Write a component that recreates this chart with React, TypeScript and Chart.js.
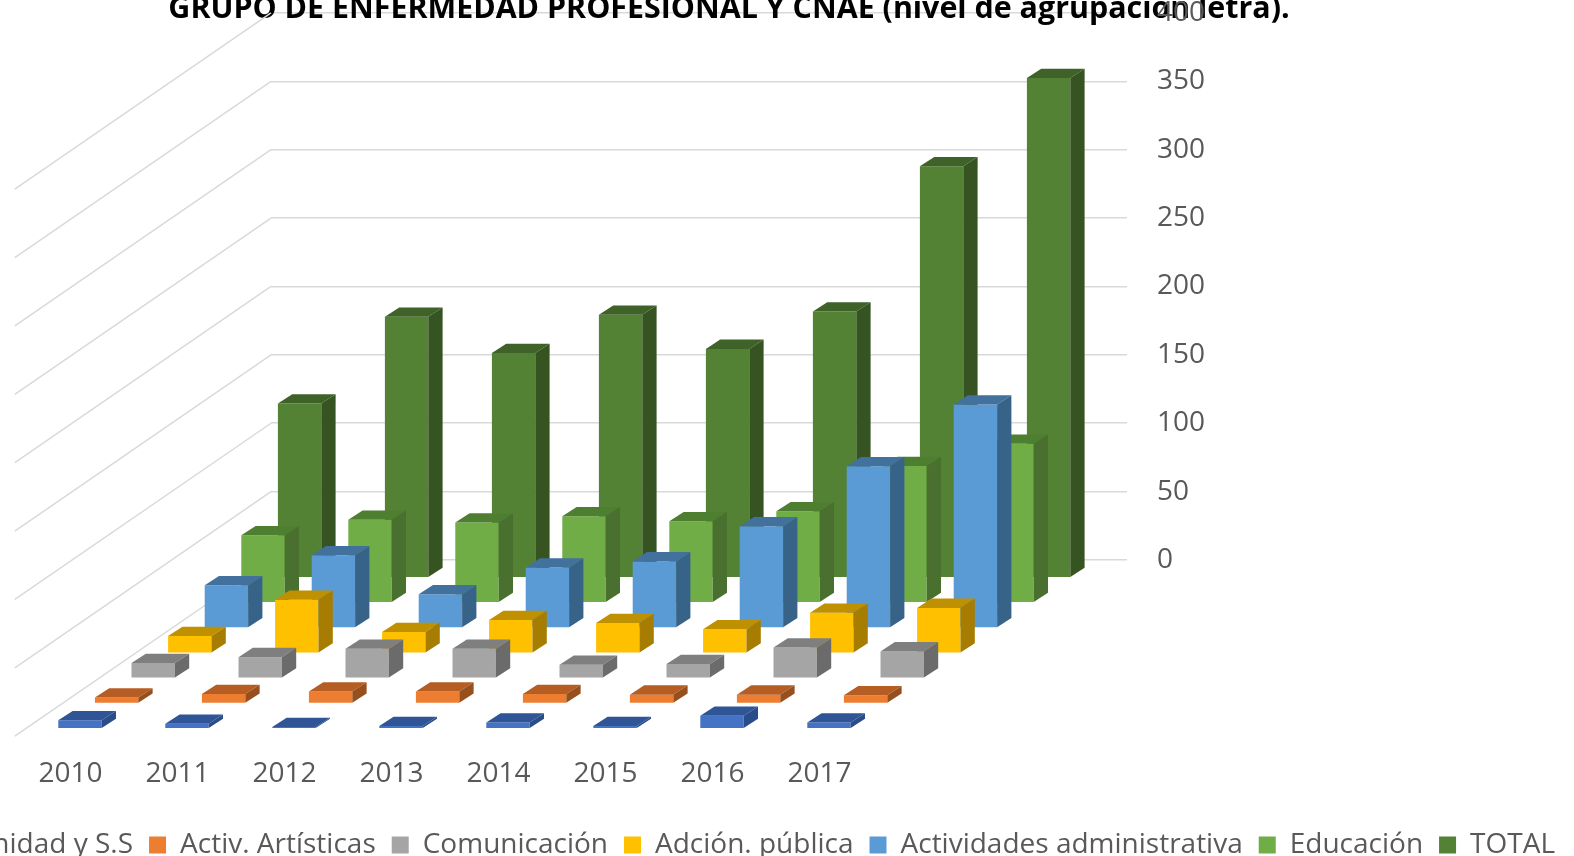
import React, { useEffect, useRef } from "react";
import { Chart, registerables } from "chart.js";

Chart.register(...registerables);

const titleText = "GRUPO DE ENFERMEDAD PROFESIONAL Y CNAE (nivel de agrupación letra).";
const years = ["2010", "2011", "2012", "2013", "2014", "2015", "2016", "2017"];
const sanidad = [6.1, 3.6, 1.2, 2, 4.5, 2, 9.4, 4.5];
const artisticas = [4.4, 6.9, 8.8, 8.8, 7, 6.5, 6.5, 6.1];
const comunicacion = [11.2, 15.5, 21.7, 21.7, 10, 10.5, 22.6, 19.7];
const adminPublica = [12.5, 39, 15.5, 24.2, 22, 17.5, 29.5, 33.1];
const actividades = [31.3, 53.2, 24.7, 44.3, 48.7, 74.4, 118.3, 163.5];
const educacion = [49.4, 60.7, 58.7, 63.3, 59.7, 67, 100, 116.3];
const total = [127.3, 190.8, 164.3, 192.3, 167.3, 194.6, 300.8, 365.3];

const PAGE_LEFT = -113;
const PAGE_TOP = -38;
const CANVAS_W = 1684;
const CANVAS_H = 907;
const FONT = "'Open Sans'";
const ROW_DX = 36.6;
const ROW_DY = -25.17;
const FRONT_DX = -244.5;
const FRONT_DY = 168.7;
const FACE_DX = 14.3;
const FACE_DY = 9.3;

const rowShade = [
  { top: "#2F5597", side: "#2A4D8A" },
  { top: "#B55D22", side: "#97501D" },
  { top: "#7F7F7F", side: "#6B6B6B" },
  { top: "#BF9000", side: "#A67D00" },
  { top: "#41719C", side: "#376389" },
  { top: "#4E7F30", side: "#4A702F" },
  { top: "#3F6228", side: "#365322" },
];

const depthPlugin = {
  id: "depth",
  beforeDatasetsDraw(chart: any) {
    const { ctx, scales } = chart;
    const left = chart.chartArea.left;
    const run = 7 * ROW_DX;
    ctx.save();
    ctx.strokeStyle = "#D9D9D9";
    ctx.lineWidth = 1.5;
    scales.y.ticks.forEach((t: any) => {
      const y = scales.y.getPixelForValue(t.value);
      ctx.beginPath();
      ctx.moveTo(left, y);
      ctx.lineTo(left - run, y - 7 * ROW_DY);
      ctx.stroke();
    });
    ctx.restore();
  },
  beforeDatasetDraw(chart: any, args: any) {
    const i = args.index;
    chart.ctx.save();
    chart.ctx.translate(FRONT_DX + i * ROW_DX, FRONT_DY + i * ROW_DY);
  },
  afterDatasetDraw(chart: any, args: any) {
    const { ctx } = chart;
    const shade = rowShade[args.index];
    args.meta.data.forEach((bar: any) => {
      const l = bar.x - bar.width / 2;
      const r = bar.x + bar.width / 2;
      const t = bar.y;
      const b = bar.base;
      ctx.fillStyle = shade.top;
      ctx.beginPath();
      ctx.moveTo(l, t);
      ctx.lineTo(l + FACE_DX, t - FACE_DY);
      ctx.lineTo(r + FACE_DX, t - FACE_DY);
      ctx.lineTo(r, t);
      ctx.closePath();
      ctx.fill();
      ctx.fillStyle = shade.side;
      ctx.beginPath();
      ctx.moveTo(r, t);
      ctx.lineTo(r + FACE_DX, t - FACE_DY);
      ctx.lineTo(r + FACE_DX, b - FACE_DY);
      ctx.lineTo(r, b);
      ctx.closePath();
      ctx.fill();
    });
    ctx.restore();
  },
};

export default function App() {
  const ref = useRef<HTMLCanvasElement | null>(null);
  useEffect(() => {
    document.body.style.margin = "0";
    const chart = new Chart(ref.current as HTMLCanvasElement, {
      type: "bar",
      data: {
        labels: years,
        datasets: [
          { label: "Sanidad y S.S", data: sanidad, backgroundColor: "#4472C4" },
          { label: "Activ. Artísticas", data: artisticas, backgroundColor: "#ED7D31" },
          { label: "Comunicación", data: comunicacion, backgroundColor: "#A5A5A5" },
          { label: "Adción. pública", data: adminPublica, backgroundColor: "#FFC000" },
          { label: "Actividades administrativa", data: actividades, backgroundColor: "#5B9BD5" },
          { label: "Educación", data: educacion, backgroundColor: "#70AD47" },
          { label: "TOTAL", data: total, backgroundColor: "#548235" },
        ],
      },
      plugins: [depthPlugin],
      options: {
        responsive: false,
        animation: false,
        datasets: {
          bar: { grouped: false, barPercentage: 0.4056, categoryPercentage: 1, clip: false, borderWidth: 0 },
        },
        scales: {
          x: {
            grid: { display: false },
            border: { display: false },
            ticks: {
              autoSkip: false,
              maxRotation: 0,
              padding: 189,
              labelOffset: -254,
              color: "#595959",
              font: { family: FONT, size: 28 },
            },
            afterFit: (s: any) => {
              s.height = 255;
            },
          },
          y: {
            position: "right",
            min: 0,
            max: 400,
            grid: { color: "#D9D9D9", lineWidth: 1.5, drawTicks: false },
            border: { display: false },
            ticks: {
              stepSize: 50,
              padding: 30,
              color: "#595959",
              font: { family: FONT, size: 28 },
            },
            afterFit: (s: any) => {
              s.width = 444;
            },
          },
          wall: {
            type: "linear",
            axis: "y",
            position: "left",
            grid: { display: false },
            border: { display: false },
            ticks: { display: false },
            afterFit: (s: any) => {
              s.width = 384;
            },
          },
        },
        plugins: {
          tooltip: { enabled: false },
          title: {
            display: true,
            text: titleText,
            color: "#000000",
            font: { family: FONT, size: 30.4, weight: "bold" },
            padding: { top: 29.4, bottom: -14.9 },
          },
          legend: {
            position: "bottom",
            align: "end",
            labels: {
              boxWidth: 17,
              boxHeight: 17,
              padding: 16,
              color: "#595959",
              font: { family: FONT, size: 28 },
            },
          },
        },
      },
    } as any);
    return () => chart.destroy();
  }, []);
  return (
    <div style={{ position: "relative", width: 1574, height: 856, overflow: "hidden", background: "#fff" }}>
      <canvas
        ref={ref}
        width={CANVAS_W}
        height={CANVAS_H}
        style={{ position: "absolute", left: PAGE_LEFT, top: PAGE_TOP, width: CANVAS_W, height: CANVAS_H }}
      />
    </div>
  );
}
